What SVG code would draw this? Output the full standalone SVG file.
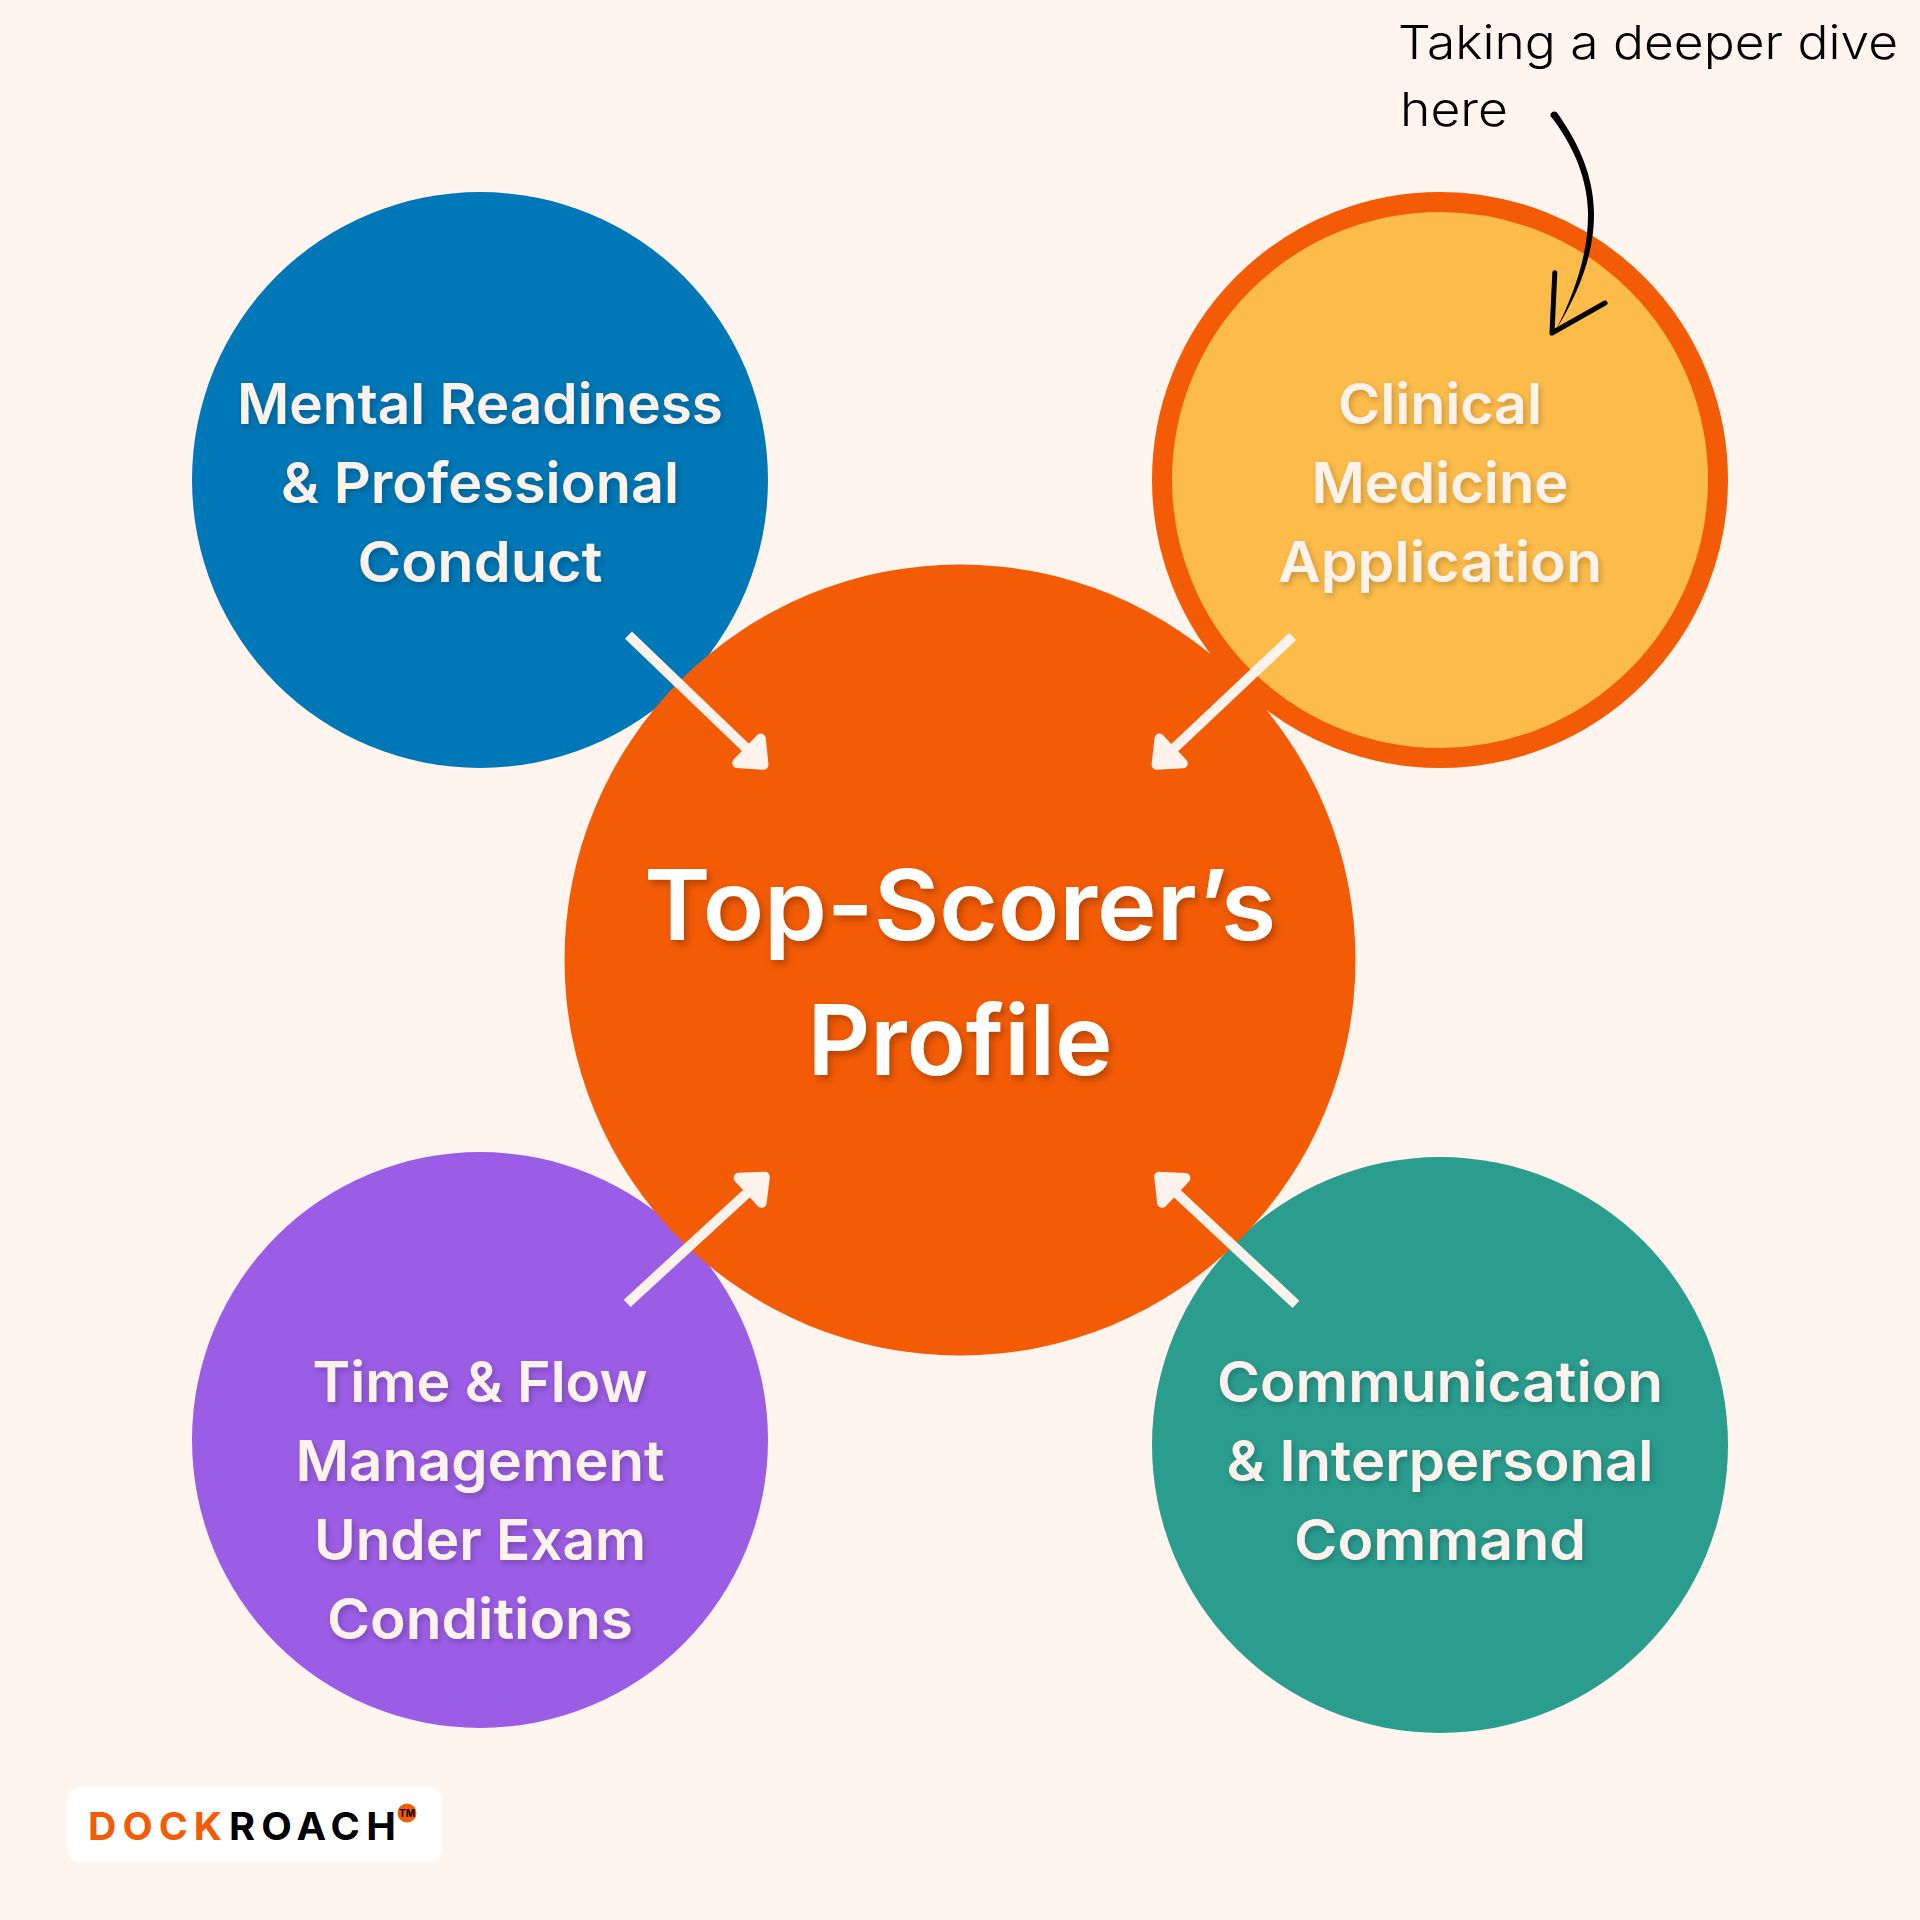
<svg xmlns="http://www.w3.org/2000/svg" width="1920" height="1920" viewBox="0 0 1920 1920">
<style>
.t{font-family:"Inter","Liberation Sans",sans-serif;font-weight:600;font-size:56px;fill:#fef3ec;text-anchor:middle;filter:url(#sh)}
.m{font-family:"Inter","Liberation Sans",sans-serif;font-weight:600;font-size:98px;fill:#fff;text-anchor:middle;filter:url(#sh2)}
.n{font-family:"Inter","Liberation Sans",sans-serif;font-weight:300;font-size:47px;fill:#000}
.l{font-family:"Inter","Liberation Sans",sans-serif;font-weight:700;font-size:38.5px;letter-spacing:6px}
.arr{fill:#fef3ec;stroke:#fef3ec;stroke-linejoin:round}
</style>
<defs>
<filter id="sh" x="-10%" y="-30%" width="120%" height="160%"><feDropShadow dx="2" dy="3" stdDeviation="3" flood-color="#000" flood-opacity="0.22"/></filter>
<filter id="sh2" x="-10%" y="-30%" width="120%" height="160%"><feDropShadow dx="3" dy="4" stdDeviation="3.500" flood-color="#000" flood-opacity="0.25"/></filter>
<g id="ah">
<line x1="-194" y1="0" x2="-24" y2="0" stroke="#fef3ec" stroke-width="10"/>
<path class="arr" stroke-width="10" d="M-7 0L-27 -17L-27 17Z"/>
</g>
</defs>
<rect width="1920" height="1920" fill="#fff4ee"/>
<g id="node-mental"><circle cx="480" cy="480" r="288" fill="#0077b6"/>
<text class="t" x="480" y="424" textLength="486" lengthAdjust="spacingAndGlyphs">Mental Readiness</text>
<text class="t" x="480" y="503" textLength="398" lengthAdjust="spacingAndGlyphs">&amp; Professional</text>
<text class="t" x="480" y="582" textLength="245" lengthAdjust="spacingAndGlyphs">Conduct</text></g>
<g id="node-clinical"><circle cx="1440" cy="480" r="278" fill="#fdbc4a" stroke="#f35b04" stroke-width="20"/>
<text class="t" x="1440" y="424" textLength="204" lengthAdjust="spacingAndGlyphs">Clinical</text>
<text class="t" x="1440" y="503" textLength="257" lengthAdjust="spacingAndGlyphs">Medicine</text>
<text class="t" x="1440" y="582" textLength="324" lengthAdjust="spacingAndGlyphs">Application</text></g>
<g id="node-time"><circle cx="480" cy="1440" r="288" fill="#9b5de5"/>
<text class="t" x="480" y="1402" textLength="335" lengthAdjust="spacingAndGlyphs">Time &amp; Flow</text>
<text class="t" x="480" y="1481" textLength="369" lengthAdjust="spacingAndGlyphs">Management</text>
<text class="t" x="480" y="1560" textLength="332" lengthAdjust="spacingAndGlyphs">Under Exam</text>
<text class="t" x="480" y="1639" textLength="306" lengthAdjust="spacingAndGlyphs">Conditions</text></g>
<g id="node-comm"><circle cx="1440" cy="1445" r="288" fill="#2a9d8f"/>
<text class="t" x="1440" y="1402" textLength="446" lengthAdjust="spacingAndGlyphs">Communication</text>
<text class="t" x="1440" y="1481" textLength="427" lengthAdjust="spacingAndGlyphs">&amp; Interpersonal</text>
<text class="t" x="1440" y="1560" textLength="292" lengthAdjust="spacingAndGlyphs">Command</text></g>
<g id="node-center"><circle cx="960" cy="960" r="395.5" fill="#f35b04"/>
<text class="m" x="960" y="940" textLength="632" lengthAdjust="spacingAndGlyphs">Top-Scorer’s</text>
<text class="m" x="960" y="1075" textLength="305" lengthAdjust="spacingAndGlyphs">Profile</text></g>
<g id="connectors">
<use href="#ah" transform="translate(768.500 769.500) rotate(43.800)"/>
<use href="#ah" transform="translate(1151.500 769.500) rotate(136.700)"/>
<use href="#ah" transform="translate(770 1172) rotate(-42.600)"/>
<use href="#ah" transform="translate(1154 1172) rotate(-137)"/>
<g transform="translate(5.500 0)">
<path d="M1551 112C1566 133 1588 168 1588.500 213C1589 255 1572 295 1551 329C1568 295 1583 255 1582.500 213C1582 170 1560 135 1545 116A4 4 0 0 1 1551 112Z" fill="#000"/>
<path d="M1549.300 272.700L1546.500 333L1599.500 303" fill="none" stroke="#000" stroke-width="5" stroke-linecap="round" stroke-linejoin="round"/>
</g>
</g>
<g id="note">
<text class="n" x="1398" y="59" textLength="500" lengthAdjust="spacingAndGlyphs">Taking a deeper dive</text>
<text class="n" x="1400" y="126" textLength="108" lengthAdjust="spacingAndGlyphs">here</text>
</g>
<g id="logo">
<rect x="67" y="1787" width="375" height="75" rx="14" fill="#fff"/>
<text class="l" x="88" y="1840" fill="#f35b04" textLength="140" lengthAdjust="spacingAndGlyphs">DOCK</text>
<text class="l" x="229" y="1840" fill="#000" textLength="173" lengthAdjust="spacingAndGlyphs">ROACH</text>
<circle cx="407" cy="1813" r="9.500" fill="#f35b04"/>
<text x="407" y="1817" font-family="Inter,sans-serif" font-size="10" font-weight="700" text-anchor="middle" fill="#000">TM</text>
</g>
</svg>
